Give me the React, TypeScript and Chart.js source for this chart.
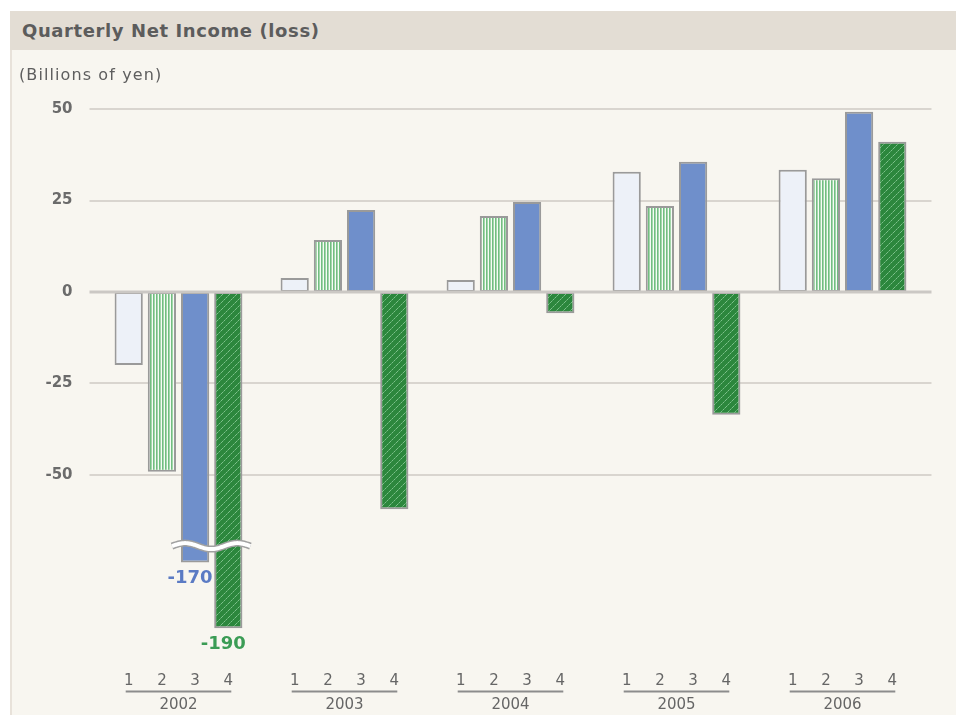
import React, { useEffect, useRef } from 'react';
import { Chart, registerables } from 'chart.js';
Chart.register(...registerables);

const years = ['2002', '2003', '2004', '2005', '2006'];
const quarters = ['1', '2', '3', '4'];
const q1 = [-20, 3.8, 3.3, 32.9, 33.4];
const q2 = [-49.2, 14.2, 20.8, 23.5, 31.1];
const q3 = [-170, 22.4, 24.6, 35.6, 49.3];
const q4 = [-190, -59.4, -5.8, -33.6, 41.1];
const yTicks = [50, 25, 0, -25, -50];
const breakLevel = -69.5;

// broken axis: values far below the visible range are compressed
const toDisplay = (v: number) => (v < -65 ? -74 + (v + 170) * 0.9 : v);

function makeStripe(): CanvasPattern | string {
  const c = document.createElement('canvas');
  c.width = 3; c.height = 4;
  const x = c.getContext('2d');
  if (!x) return '#9fd3a8';
  x.fillStyle = '#72bd81'; x.fillRect(0, 0, 1, 4);
  x.fillStyle = '#a3d7ab'; x.fillRect(1, 0, 1, 4);
  x.fillStyle = '#f6fbf6'; x.fillRect(2, 0, 1, 4);
  return x.createPattern(c, 'repeat') || '#9fd3a8';
}

function makeHatch(): CanvasPattern | string {
  const c = document.createElement('canvas');
  c.width = 7; c.height = 7;
  const x = c.getContext('2d');
  if (!x) return '#2e8a3f';
  x.fillStyle = '#2c873d'; x.fillRect(0, 0, 7, 7);
  x.fillStyle = '#7cc08a';
  for (let i = 0; i < 7; i++) {
    if (i % 2 === 0) x.fillRect(i, 6 - i, 1, 1);
    else { x.fillStyle = '#5aa86a'; x.fillRect(i, 6 - i, 1, 1); x.fillStyle = '#7cc08a'; }
  }
  return x.createPattern(c, 'repeat') || '#2e8a3f';
}

const FONT = '"DejaVu Sans", Verdana, sans-serif';

export default function App() {
  const ref = useRef<HTMLCanvasElement | null>(null);
  useEffect(() => {
    if (!ref.current) return;
    const decor = {
      id: 'decor',
      beforeDatasetsDraw(chart: any) {
        const { ctx, chartArea, scales } = chart;
        const y = scales.y;
        ctx.save();
        ctx.strokeStyle = '#d9d5cf';
        ctx.lineWidth = 2;
        yTicks.forEach((v) => {
          if (v === 0) return;
          const py = Math.round(y.getPixelForValue(v));
          ctx.beginPath();
          ctx.moveTo(chartArea.left - 6, py);
          ctx.lineTo(chartArea.right + 6, py);
          ctx.stroke();
        });
        ctx.restore();
      },
      afterDatasetsDraw(chart: any) {
        const { ctx, chartArea, scales } = chart;
        const y = scales.y;
        ctx.save();
        // zero line
        const z = y.getPixelForValue(0);
        ctx.strokeStyle = '#cbc8c4';
        ctx.lineWidth = 3;
        ctx.beginPath();
        ctx.moveTo(chartArea.left - 6, z);
        ctx.lineTo(chartArea.right + 6, z);
        ctx.stroke();

        // break wave over first-year Q3/Q4
        const b3 = chart.getDatasetMeta(2).data[0];
        const b4 = chart.getDatasetMeta(3).data[0];
        const x0 = b3.x - b3.width / 2 - 9;
        const x1 = b4.x + b4.width / 2 + 8;
        const wy = y.getPixelForValue(breakLevel);
        const wave = () => {
          ctx.beginPath();
          const n = 60;
          for (let i = 0; i <= n; i++) {
            const t = i / n;
            const px = x0 + t * (x1 - x0);
            const py = wy - 3 * Math.sin(Math.PI * 2 * 1.5 * t);
            if (i === 0) ctx.moveTo(px, py); else ctx.lineTo(px, py);
          }
          ctx.stroke();
        };
        ctx.lineCap = 'butt';
        ctx.strokeStyle = '#a0a0a0'; ctx.lineWidth = 7; wave();
        ctx.strokeStyle = '#ffffff'; ctx.lineWidth = 4; wave();

        // real value labels for broken bars
        ctx.font = `bold 18px ${FONT}`;
        ctx.textAlign = 'center';
        ctx.textBaseline = 'middle';
        ctx.fillStyle = '#5b7bc4';
        ctx.fillText(String(q3[0]), b3.x - 5, b3.y + 16);
        ctx.fillStyle = '#3b9c55';
        ctx.fillText(String(q4[0]), b4.x - 5, b4.y + 16);

        // category labels
        ctx.fillStyle = '#666666';
        ctx.font = `15px ${FONT}`;
        const base = chartArea.bottom;
        years.forEach((yr, i) => {
          const xs = [0, 1, 2, 3].map((d) => chart.getDatasetMeta(d).data[i].x);
          xs.forEach((px, qi) => ctx.fillText(quarters[qi], px, base + 24));
          ctx.strokeStyle = '#8c8c8c';
          ctx.lineWidth = 2;
          ctx.beginPath();
          ctx.moveTo(xs[0] - 3, base + 34);
          ctx.lineTo(xs[3] + 3, base + 34);
          ctx.stroke();
          ctx.fillText(yr, (xs[0] + xs[3]) / 2, base + 48);
        });
        ctx.restore();
      },
    };

    const fills = ['#edf1f8', makeStripe(), '#6f8fcb', makeHatch()];
    const series = [q1, q2, q3, q4];
    const chart = new Chart(ref.current, {
      type: 'bar',
      data: {
        labels: years,
        datasets: series.map((s, i) => ({
          label: 'Q' + quarters[i],
          data: s.map(toDisplay),
          backgroundColor: fills[i] as any,
          borderColor: '#9a9a9a',
          borderWidth: 2,
          borderSkipped: false,
          barPercentage: 0.85,
          categoryPercentage: 0.8,
        })),
      },
      options: {
        responsive: false,
        animation: false,
        layout: { padding: { top: 40.9, bottom: 57.4, left: 0, right: 30.5 } },
        plugins: { legend: { display: false }, tooltip: { enabled: false } },
        scales: {
          x: { display: false },
          y: {
            min: -100,
            max: 55,
            afterBuildTicks: (s: any) => { s.ticks = yTicks.map((v) => ({ value: v })); },
            afterFit: (s: any) => { s.width = 83.5; },
            grid: { display: false, drawTicks: false },
            border: { display: false },
            ticks: {
              padding: 23,
              color: '#6b6b6b',
              font: { family: FONT, size: 15, weight: 'bold' },
            },
          },
        },
      },
      plugins: [decor],
    } as any);
    return () => chart.destroy();
  }, []);

  return (
    <div
      style={{
        position: 'absolute', left: 10, top: 11, width: 946, height: 704,
        background: '#f8f6f0', overflow: 'hidden',
      }}
    >
      <div style={{ position: 'absolute', left: 0, top: 39, width: 2, height: 665, background: '#e8e2da' }} />
      <div
        style={{
          position: 'absolute', left: 0, top: 0, width: 946, height: 39,
          background: '#e3ddd4', color: '#5c5c5c', fontFamily: FONT,
          fontWeight: 'bold', fontSize: 18, letterSpacing: '0.6px',
          lineHeight: '39px', paddingLeft: 12, boxSizing: 'border-box', whiteSpace: 'nowrap',
        }}
      >
        Quarterly Net Income (loss)
      </div>
      <canvas
        ref={ref}
        width={944}
        height={665}
        style={{ position: 'absolute', left: 2, top: 39, width: 944, height: 665 }}
      />
      <div
        style={{
          position: 'absolute', left: 9, top: 55, fontFamily: FONT, fontSize: 16,
          letterSpacing: '1.1px', color: '#5e5e5e', lineHeight: '18px', whiteSpace: 'nowrap',
        }}
      >
        (Billions of yen)
      </div>
    </div>
  );
}
